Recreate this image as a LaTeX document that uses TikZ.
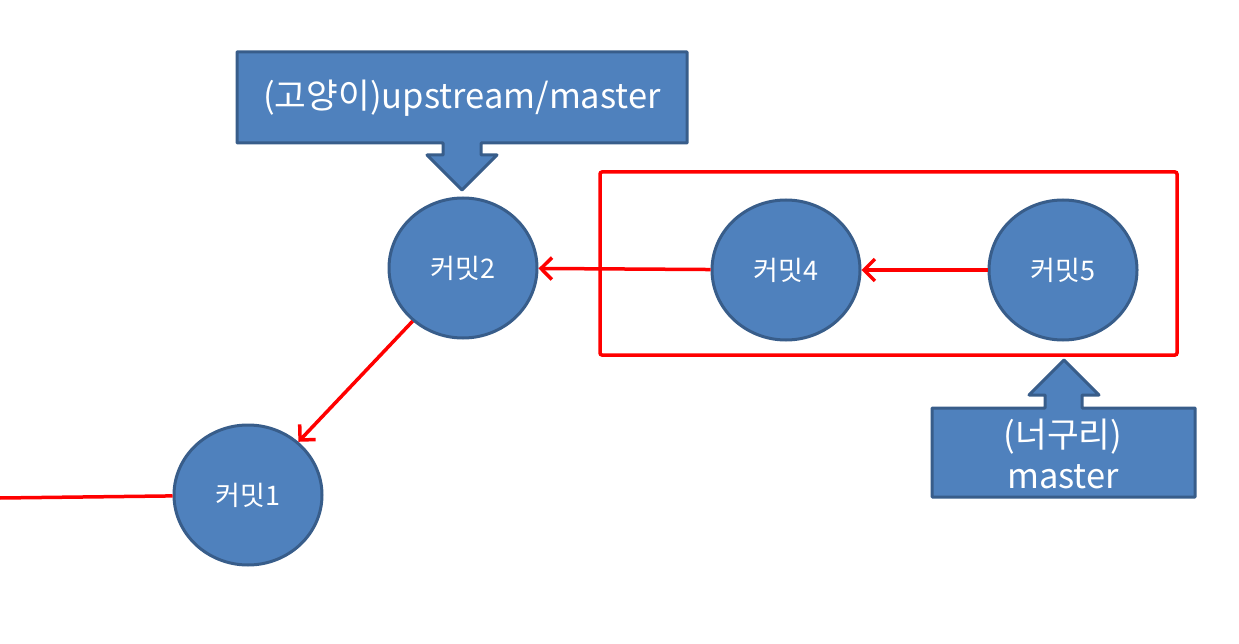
\documentclass[tikz,border=0pt]{standalone}
\usepackage{fontspec}
\setmainfont{Noto Sans CJK KR}
\usetikzlibrary{arrows.meta,shapes.geometric}
\definecolor{boxblue}{HTML}{4F81BD}
\definecolor{edgeblue}{HTML}{385D8A}
\tikzset{
  commit/.style={ellipse,fill=boxblue,draw=edgeblue,line width=3pt,
    minimum width=148pt,minimum height=140pt,text=white,font=\fontsize{27}{32}\selectfont},
  callout/.style={fill=boxblue,draw=edgeblue,line width=3pt,line join=round},
  tagtext/.style={text=white,align=center,font=\fontsize{34.5}{41}\selectfont},
  link/.style={red,line width=3.5pt,-{Straight Barb[length=11pt,width=22pt,line width=3.5pt]}}
}
\begin{document}
\begin{tikzpicture}[x=1pt,y=-1pt]
\useasboundingbox (0,0) rectangle (1239,644);
\draw[red,line width=3.5pt,rounded corners=2pt] (600,172) rectangle (1177,355);
% branch callouts
\draw[callout] (237,52) -- (687,52) -- (687,143) -- (481,143) -- (481,155) -- (497,155)
  -- (462,190) -- (427,155) -- (443,155) -- (443,143) -- (237,143) -- cycle;
\draw[callout] (932,408) -- (1045,408) -- (1045,395) -- (1029,395) -- (1064,360)
  -- (1099,395) -- (1082,395) -- (1082,408) -- (1195,408) -- (1195,497) -- (932,497) -- cycle;
\node[tagtext] (upstream) at (462,98) {(고양이)upstream/master};
\node[tagtext] (master) at (1063,454) {(너구리)\\master};
% commits
\node[commit] (c2) at (463,268) {커밋2};
\node[commit] (c4) at (786,270) {커밋4};
\node[commit] (c5) at (1063,270) {커밋5};
\node[commit] (c1) at (248,495) {커밋1};
\coordinate (past) at (0,498);
\draw[link] (c5) -- (c4);
\draw[link] (c4) -- (c2);
\draw[link] (c2) -- (c1);
\draw[red,line width=3.5pt] (past) -- (c1);
\end{tikzpicture}
\end{document}
